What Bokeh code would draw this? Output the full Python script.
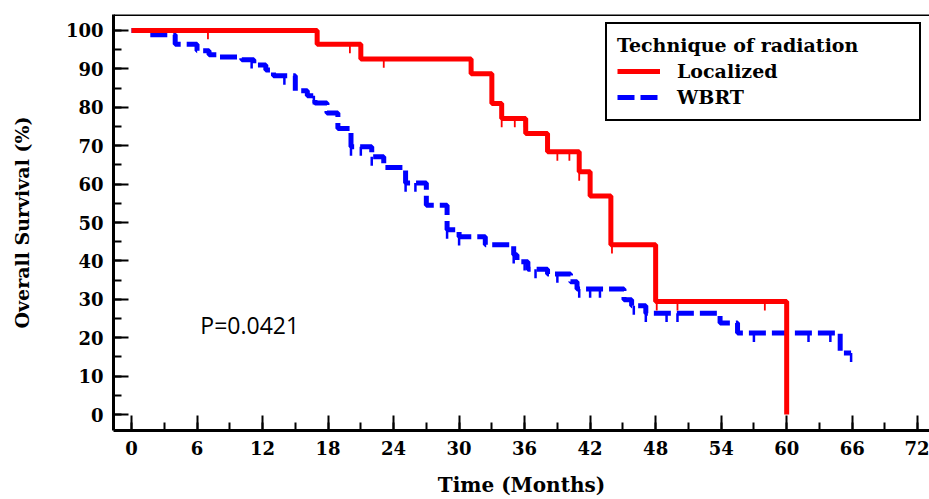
import numpy as np
from bokeh.plotting import figure
from bokeh.models import (Range1d, SingleIntervalTicker, Legend, LegendItem,
                          Label, Span)
from bokeh.embed import file_html
from bokeh.resources import INLINE

# ---------------- data ----------------
red_t = [0, 17.0, 21.0, 31.1, 33.0, 33.9, 36.1, 38.1, 41.0, 42.0, 43.9, 48.0, 60.0]
red_s = [100, 96.4, 92.6, 88.7, 81.0, 77.1, 73.2, 68.4, 63.2, 56.9, 44.2, 29.4, 0]
red_censor = [7.0, 20.0, 23.1, 33.9, 35.1, 36.0, 39.0, 40.1, 41.0, 44.0, 48.1, 50.0, 58.0]

blue_t = [0, 1.7, 4.0, 6.0, 7.1, 8.0, 10.1, 11.2, 12.3, 13.0, 15.0, 16.1, 16.8,
          17.9, 18.9, 20.1, 22.0, 23.1, 25.1, 27.0, 28.9, 30.0, 32.4, 35.0, 35.3,
          36.3, 38.1, 40.2, 40.8, 45.1, 45.8, 47.1, 53.9, 55.5, 64.9, 65.9]
blue_s = [100, 98.9, 96.4, 94.7, 93.7, 93.1, 92.4, 91.0, 89.7, 88.2, 84.3, 83.0, 81.1,
          78.5, 74.5, 69.7, 67.1, 64.3, 60.3, 54.5, 48.1, 46.3, 44.2, 41.6, 39.8,
          37.8, 36.6, 34.6, 32.7, 29.9, 28.3, 26.4, 23.8, 21.2, 16.0, 16.0]
blue_censor = [11.0, 14.0, 16.7, 20.1, 21.0, 22.0, 25.1, 26.0, 28.9, 30.0, 35.0, 36.0,
               37.0, 39.0, 41.0, 42.0, 42.9, 46.0, 47.1, 49.0, 50.0, 57.0, 62.0, 64.0, 65.9]

x_ticks_interval = 6
y_ticks_interval = 10
legend_title = "Technique of radiation"
group_names = ["Localized", "WBRT"]
p_text = "P=0.0421"

SERIF = "DejaVu Serif"


def level_at(times, surv, t):
    idx = np.searchsorted(np.asarray(times), t, side="right") - 1
    return np.asarray(surv)[idx]


p = figure(width=929, height=499,
           x_range=Range1d(-1.65, 73.08), y_range=Range1d(-4.16, 104.16),
           output_backend="svg", toolbar_location=None,
           min_border_left=113, min_border_right=0,
           min_border_top=14, min_border_bottom=68)
p.grid.visible = False
p.outline_line_color = None
p.background_fill_color = "white"
p.border_fill_color = "white"

# top border of the box
p.add_layout(Span(location=104.16, dimension="width", line_color="black", line_width=3))

for ax in (p.xaxis[0], p.yaxis[0]):
    ax.axis_line_width = 3
    ax.axis_line_color = "black"
    ax.major_tick_in = 15
    ax.major_tick_out = 0
    ax.minor_tick_in = 8
    ax.minor_tick_out = 0
    ax.major_tick_line_width = 2
    ax.minor_tick_line_width = 2
    ax.major_tick_line_color = "black"
    ax.minor_tick_line_color = "black"
    ax.major_label_text_font = SERIF
    ax.major_label_text_font_style = "bold"
    ax.major_label_text_font_size = "18px"
    ax.major_label_text_color = "black"
    ax.axis_label_text_font = SERIF
    ax.axis_label_text_font_style = "bold"
    ax.axis_label_text_color = "black"
    ax.major_label_standoff = 10

p.xaxis[0].axis_label_text_font_size = "20px"
p.yaxis[0].axis_label_text_font_size = "19px"
p.xaxis[0].ticker = SingleIntervalTicker(interval=x_ticks_interval, num_minor_ticks=2)
p.yaxis[0].ticker = SingleIntervalTicker(interval=y_ticks_interval, num_minor_ticks=2)
p.xaxis[0].axis_label = "Time (Months)"
p.yaxis[0].axis_label = "Overall Survival (%)"
p.xaxis[0].axis_label_standoff = 15
p.yaxis[0].axis_label_standoff = 30

# curves
r_blue = p.step(x=blue_t, y=blue_s, mode="after", line_color="#0000FF",
                line_width=5, line_dash="17 6")
r_red = p.step(x=red_t, y=red_s, mode="after", line_color="#FF0000", line_width=5)

# censor marks
tick_len = 2.3
bc_lvl = level_at(blue_t, blue_s, blue_censor)
p.segment(x0=blue_censor, y0=bc_lvl, x1=blue_censor, y1=bc_lvl - tick_len,
          line_color="#0000FF", line_width=2.5)
rc_lvl = level_at(red_t, red_s, red_censor)
p.segment(x0=red_censor, y0=rc_lvl, x1=red_censor, y1=rc_lvl - tick_len,
          line_color="#FF0000", line_width=1.8)

legend = Legend(items=[LegendItem(label=group_names[0], renderers=[r_red]),
                       LegendItem(label=group_names[1], renderers=[r_blue])],
                title=legend_title, location="top_right")
legend.margin = 8
legend.padding = 10
legend.border_line_color = "black"
legend.border_line_width = 2
legend.border_line_alpha = 1
legend.background_fill_color = "white"
legend.background_fill_alpha = 1
legend.title_text_font = SERIF
legend.title_text_font_style = "bold"
legend.title_text_font_size = "19px"
legend.title_text_color = "black"
legend.title_standoff = 3
legend.label_text_font = SERIF
legend.label_text_font_style = "bold"
legend.label_text_font_size = "19px"
legend.label_text_color = "black"
legend.glyph_width = 43
legend.glyph_height = 24
legend.label_height = 24
legend.label_standoff = 17
legend.label_width = 232
legend.spacing = 2
p.add_layout(legend)

p.add_layout(Label(x=6.3, y=23.4, text=p_text, text_font="Open Sans",
                   text_font_size="23px", text_color="black",
                   text_baseline="middle", text_align="left"))

open("out.html", "w").write(file_html(p, INLINE))
